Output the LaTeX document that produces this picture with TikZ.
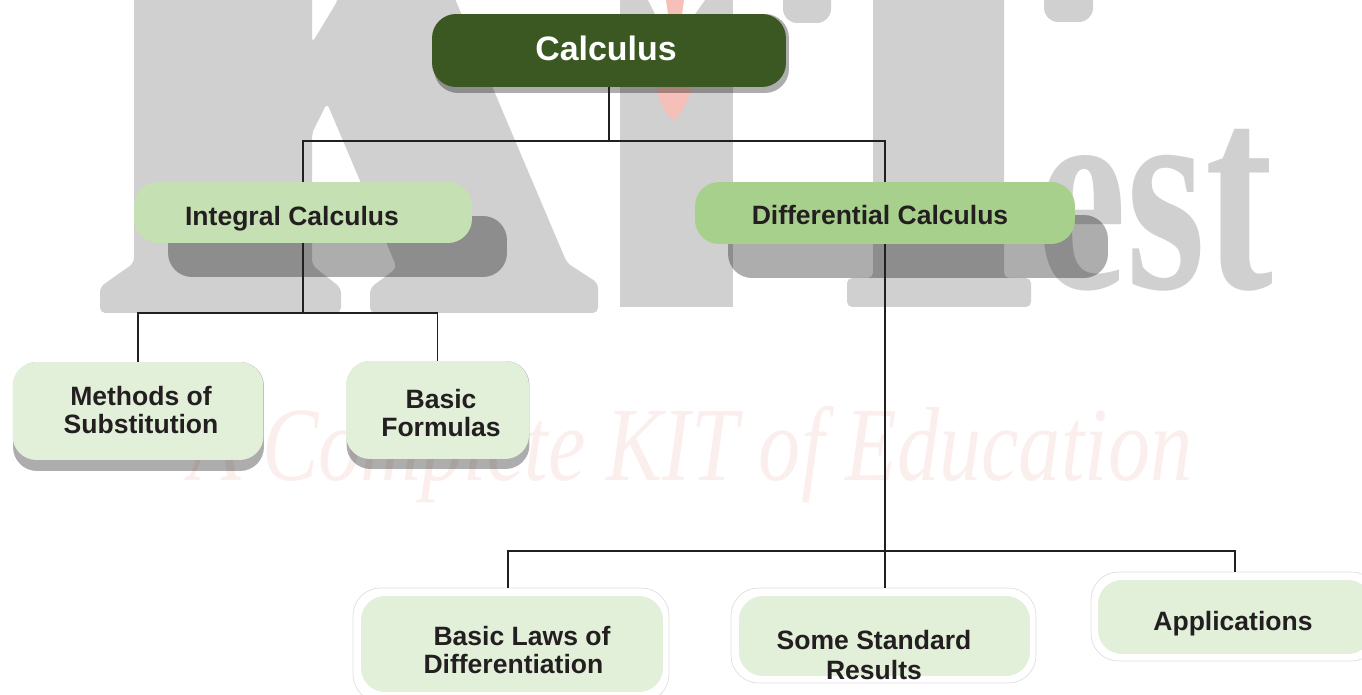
\documentclass[tikz,border=0pt]{standalone}
\usepackage{fontspec}
\setmainfont{Liberation Sans}
\newfontfamily\markfont{Liberation Serif}
\usetikzlibrary{positioning, calc}
\definecolor{inkdark}{HTML}{231F20}
\definecolor{rootgreen}{HTML}{3B5722}
\definecolor{midgreen}{HTML}{C5E0B3}
\definecolor{strongreen}{HTML}{A8D08D}
\definecolor{palegreen}{HTML}{E2EFD9}
\definecolor{markgray}{HTML}{D0D0D0}
\definecolor{markpink}{HTML}{FBEFEE}
\definecolor{tiepink}{HTML}{F6BFB8}

\begin{document}
\begin{tikzpicture}[
    x=0.02cm, y=-0.02cm,
    block/.style={rectangle, rounded corners=0.48cm, inner sep=0pt, fill=palegreen},
    shadowblock/.style={block, fill=black, opacity=0.32},
    ringblock/.style={block, fill=white, draw=gray!25, rounded corners=0.55cm},
    blocktext/.style={font=\fontsize{15.1}{15.6}\selectfont\bfseries, text=inkdark, align=center},
    wire/.style={draw=inkdark, line width=0.7pt},
    letter/.style={fill=markgray, draw=none},
]
\useasboundingbox (0,0) rectangle (1362,695);
\clip (0,0) rectangle (1362,695);

% faded background marks
\fill[letter, rounded corners=3pt] (134,-20) -- (312,-20) -- (312,43) -- (338,0) -- (338,-20) -- (447,-20) -- (567,263) -- (598,283)
    -- (598,313) -- (370,313) -- (370,288) -- (397,268) -- (327,103)
    -- (312,133) -- (312,265) -- (341,288) -- (341,313) -- (100,313)
    -- (100,287) -- (134,263) -- cycle;
\fill[letter] (620,0) rectangle (733,307);
\fill[letter, rounded corners=3pt] (873,-20) -- (1004,-20) -- (1004,278) -- (1031,278) -- (1031,307)
    -- (847,307) -- (847,278) -- (873,278) -- cycle;
\fill[letter, rounded corners=8pt] (783,-20) rectangle (831,23);
\fill[letter, rounded corners=8pt] (1044,-20) rectangle (1093,22);
\fill[white] (648,0) -- (705,0) -- (695,14) -- (655,14) -- cycle;
\fill[tiepink] (666,0) -- (684,0) -- (682,14) -- (668,14) -- cycle;
\fill[tiepink, rounded corners=3pt] (655,86) -- (693,86) -- (685,106) -- (673,122) -- (662,106) -- cycle;
\node[font=\markfont\bfseries\fontsize{161}{161}\selectfont, text=markgray, transform shape, xscale=0.72,
    inner sep=0pt, anchor=base] (markest) at (1155,289) {est};
\node[font=\markfont\itshape\fontsize{60}{60}\selectfont, text=markpink, transform shape, xscale=0.8,
    inner sep=0pt, anchor=base] (marktext) at (691,480) {A Complete KIT of Education};

% drop shadows
\node[shadowblock, minimum width=7.1cm, minimum height=1.58cm] (calculusshadow) at (611.5,53.5) {};
\node[shadowblock, minimum width=6.78cm, minimum height=1.22cm] (integralshadow) at (337.5,246.5) {};
\node[shadowblock, minimum width=7.6cm, minimum height=1.26cm] (differentialshadow) at (918,246.5) {};
\node[shadowblock, minimum width=5.02cm, minimum height=2.18cm] (methodsshadow) at (138.5,416.5) {};
\node[shadowblock, minimum width=3.66cm, minimum height=2.16cm] (formulasshadow) at (438,415) {};

% boxes
\node[block, fill=rootgreen, minimum width=7.08cm, minimum height=1.46cm] (calculus) at (609,50.5) {};
\node[block, fill=midgreen, minimum width=6.76cm, minimum height=1.22cm] (integral) at (303,212.5) {};
\node[block, fill=strongreen, minimum width=7.6cm, minimum height=1.24cm] (differential) at (885,213) {};
\node[block, minimum width=5.02cm, minimum height=1.96cm] (methods) at (138,411) {};
\node[block, minimum width=3.66cm, minimum height=1.96cm] (formulas) at (437.5,410) {};
\node[ringblock, minimum width=6.32cm, minimum height=2.28cm] (laws) at (511,645) {};
\node[ringblock, minimum width=6.1cm, minimum height=1.9cm] (results) at (883.5,635.5) {};
\node[ringblock, minimum width=5.76cm, minimum height=1.78cm] (applications) at (1235,616.5) {};
\node[block, minimum width=6.04cm, minimum height=1.92cm] (lawsinner) at (512,644) {};
\node[block, minimum width=5.82cm, minimum height=1.6cm] (resultsinner) at (884.5,636) {};
\node[block, minimum width=5.48cm, minimum height=1.48cm] (applicationsinner) at (1235,617) {};

% box texts
\node[blocktext, font=\fontsize{19.3}{20}\selectfont\bfseries, text=white] (calculustext) at (606,48) {Calculus};
\node[blocktext] (integraltext) at (292,219) {Integral Calculus};
\node[blocktext] (differentialtext) at (880,215) {Differential Calculus};
\node[blocktext] (methodstext) at (141,410) {Methods of\\Substitution};
\node[blocktext] (formulastext) at (441,413) {Basic\\Formulas};
\node[blocktext, align=left] (lawstext) at (517,650) {\hspace*{0.2cm}Basic Laws of\\Differentiation};
\node[blocktext, font=\fontsize{15.1}{17}\selectfont\bfseries] (resultstext) at (874,655) {Some Standard\\Results};
\node[blocktext] (applicationstext) at (1233,624) {Applications};

% tree
\coordinate (topjoin) at (609,141);
\coordinate (integraljoin) at (303,313);
\coordinate (lawsjoin) at (508,551);
\coordinate (applicationsjoin) at (1235,551);
\draw[wire] (calculus.south) -- (topjoin);
\draw[wire] (integral.north) |- (topjoin) -| (differential.north);
\draw[wire, line width=1pt] (integral.south) -- (integraljoin);
\draw[wire] (methods.north) |- (integraljoin) -| (formulas.north);
\draw[wire] (differential.south) -- (differential.south |- results.north);
\draw[wire] (lawsjoin |- laws.north) -- (lawsjoin) -- (applicationsjoin) -- (applications.north);
\end{tikzpicture}
\end{document}
